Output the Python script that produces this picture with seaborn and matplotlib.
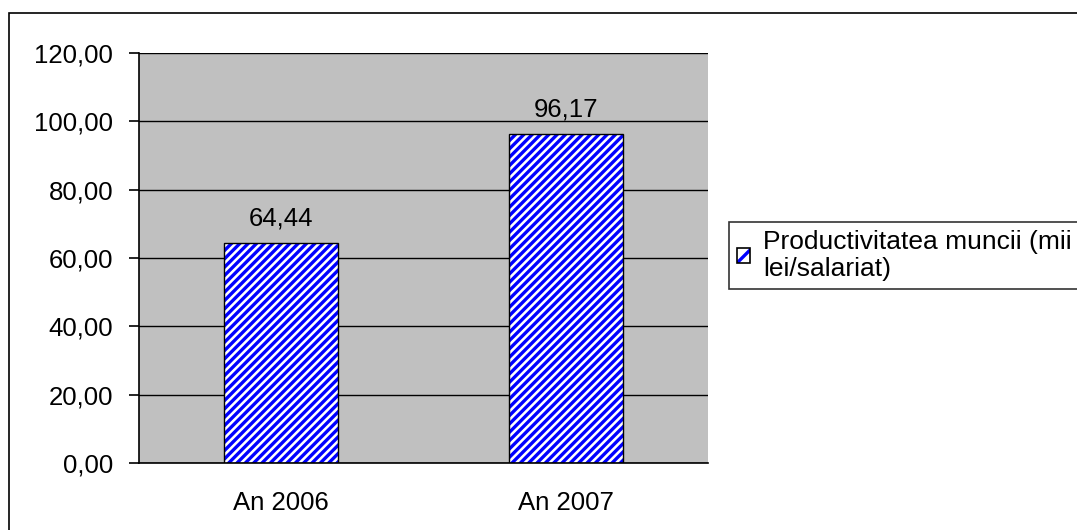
import matplotlib
matplotlib.use("Agg")
import matplotlib.pyplot as plt
from matplotlib.patches import Rectangle
from matplotlib.legend_handler import HandlerTuple
import seaborn as sns
import pandas as pd

categories = ["An 2006", "An 2007"]
values = [64.44, 96.17]
value_labels = ["64,44", "96,17"]
yticks = [0, 20, 40, 60, 80, 100, 120]
ytick_labels = ["0,00", "20,00", "40,00", "60,00", "80,00", "100,00", "120,00"]
series_name = "Productivitatea muncii (mii\nlei/salariat)"

sns.set_style("white")
plt.rcParams["font.family"] = ["Liberation Sans", "DejaVu Sans"]
plt.rcParams["hatch.linewidth"] = 2.4
plt.rcParams["text.color"] = "black"
plt.rcParams["xtick.color"] = "black"
plt.rcParams["ytick.color"] = "black"
plt.rcParams["axes.labelcolor"] = "black"

W, H = 1077, 530
FS = 18.5
fig = plt.figure(figsize=(W / 100, H / 100), dpi=100)
ax = fig.add_axes([139 / W, 1 - 463 / H, (708 - 139) / W, (463 - 53) / H])
ax.set_facecolor("#C0C0C0")

df = pd.DataFrame({"cat": categories, "val": values})
sns.barplot(data=df, x="cat", y="val", ax=ax, color="white", edgecolor="#0000FF",
            linewidth=0, width=0.4, saturation=1, zorder=3)
for p in list(ax.patches):
    p.set_hatch("////")
    ax.add_patch(Rectangle(p.get_xy(), p.get_width(), p.get_height(), fill=False,
                           edgecolor="black", linewidth=1.0, zorder=4))

ax.set_xlim(-0.5, 1.5)
ax.set_ylim(0, 120)
ax.set_yticks(yticks)
ax.set_yticklabels(ytick_labels, fontsize=FS, color="black")
ax.set_xticks(range(len(categories)))
ax.set_xticklabels(categories, fontsize=FS, color="black")
ax.set_xticks([-0.5, 0.5, 1.5], minor=True)
ax.tick_params(axis="x", which="major", length=0, pad=20)
ax.tick_params(axis="x", which="minor", length=7, width=1.2, direction="out", color="black")
ax.tick_params(axis="y", which="major", length=7.5, width=1.2, direction="out", color="black", pad=11, left=True)
ax.set_xlabel("")
ax.set_ylabel("")
ax.yaxis.grid(True, color="black", linewidth=1.0, zorder=1)
ax.set_axisbelow(True)
for s in ["top", "right"]:
    ax.spines[s].set_visible(False)
for s in ["left", "bottom"]:
    ax.spines[s].set_color("black")
    ax.spines[s].set_linewidth(1.2)
    ax.spines[s].set_zorder(5)

for x, v, lab in zip(range(len(values)), values, value_labels):
    ax.annotate(lab, (x, v), xytext=(0, 9), textcoords="offset points",
                ha="center", va="bottom", fontsize=FS, color="black")

# legend
h_fill = Rectangle((0, 0), 1, 1, facecolor="white", edgecolor="#0000FF", hatch="//", linewidth=0)
h_edge = Rectangle((0, 0), 1, 1, fill=False, edgecolor="black", linewidth=1.2)
leg = fig.legend([(h_fill, h_edge)], [series_name], loc="upper left",
                 handler_map={tuple: HandlerTuple(ndivide=1, pad=0)},
                 bbox_to_anchor=(729 / W, 1 - 222 / H), frameon=True, fancybox=False,
                 fontsize=19, handlelength=0.5, handleheight=0.5, handletextpad=0.5,
                 borderpad=0.3, borderaxespad=0, labelcolor="black")
leg.get_texts()[0].set_linespacing(1.17)
leg.get_frame().set_edgecolor("black")
leg.get_frame().set_linewidth(1.2)

fig.patches.append(Rectangle((9 / W, -0.1), 1.2, 1.1 - 13 / H, transform=fig.transFigure,
                             fill=False, edgecolor="black", linewidth=1.2))

fig.savefig("out.png", dpi=100)
